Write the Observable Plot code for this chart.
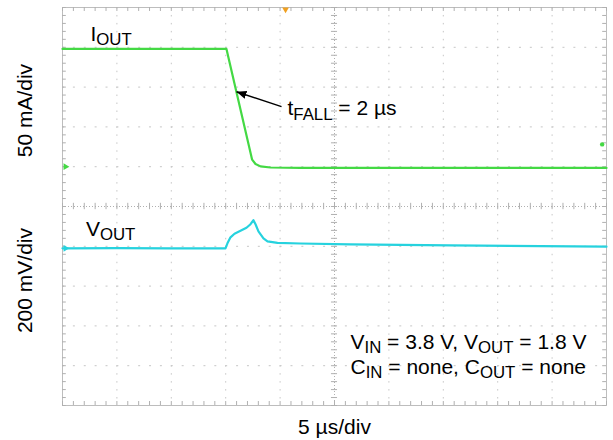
<!DOCTYPE html>
<html><head><meta charset="utf-8">
<script src="https://cdn.jsdelivr.net/npm/d3@7"></script>
<script src="https://cdn.jsdelivr.net/npm/@observablehq/plot@0.6"></script>
<style>
html,body{margin:0;padding:0;background:#fff;}
#chart svg{display:block;}
</style>
</head><body><div id="chart"></div>
<script>
// ---- data (time in µs, IOUT in mA, VOUT deviation in mV) ----
const ioutTime = [0, 5, 10, 15.07, 17.43, 17.74, 18.2, 19.12, 21.87, 30, 40, 50];
const ioutMA   = [148, 148, 148, 148, 8.8, 3.4, 0.4, -1.0, -1.5, -1.6, -1.4, -1.6];
const voutTime = [0, 5, 10, 14.98, 15.16, 15.44, 15.81, 16.36, 16.91, 17.28, 17.55, 17.74, 18.01, 18.47, 18.84, 19.76, 21.87, 26.47, 35.66, 50];
const voutMV   = [0, 1, 0, 0, 25, 55, 73, 88, 103, 121, 141, 121, 85, 50, 35, 27, 24, 20, 15, 8];
const labels = {
  iout: "I_{OUT}", vout: "V_{OUT}", fall: "t_{FALL} = 2 µs",
  cond1: "V_{IN} = 3.8 V, V_{OUT} = 1.8 V", cond2: "C_{IN} = none, C_{OUT} = none",
  yTop: "50 mA/div", yBottom: "200 mV/div", x: "5 µs/div"
};
// scope settings
const mAperDiv = 50, mVperDiv = 200;
const ch1Offset = 6, ch2Offset = 3.95;   // divisions
const triggerTime = [20.5];
const triggerLevel = [{t: 49.6, mA: 28}];
const xGrid = [0, 5, 10, 15, 20, 25, 30, 35, 40, 45, 50];
const yGrid = [0, 1, 2, 3, 4, 5, 6, 7, 8, 9, 10];
const xMinor = d3.range(0, 50.001, 1);
const yMinor = d3.range(0, 10.001, 0.2);
const fallArrow = [{t1: 20.13, mA1: 75.4, t2: 15.99, mA2: 94.2}];

const iout = ioutTime.map((t, i) => ({t, v: ch1Offset + ioutMA[i] / mAperDiv}));
const vout = voutTime.map((t, i) => ({t, v: ch2Offset + voutMV[i] / mVperDiv}));

const GREEN = "#44d944", CYAN = "#26d2de", GRID = "#c6c6c6", TICK = "#b0b0b0";
const FONT = "Liberation Sans, Arial, Helvetica, sans-serif";

function filledArrow(color) {
  const m = d3.create("svg:marker")
    .attr("viewBox", "-10 -5 10 10")
    .attr("markerWidth", 10).attr("markerHeight", 10)
    .attr("markerUnits", "userSpaceOnUse")
    .attr("orient", "auto")
    .attr("fill", color).attr("stroke", "none");
  m.append("path").attr("d", "M-10,-4L0,0L-10,4Z");
  return m.node();
}

function build(marker) {
  const mid = xGrid[5], yMid = yGrid[5];
  return Plot.plot({
    width: 613, height: 440,
    marginLeft: 62, marginRight: 7, marginTop: 7, marginBottom: 35,
    style: {fontFamily: FONT, background: "#fff", overflow: "visible"},
    x: {domain: [0, 50], axis: null},
    y: {domain: [0, 10], axis: null},
    marks: [
      Plot.ruleX(xGrid.filter(v => v !== 0 && v !== 50 && v !== mid), {stroke: GRID, strokeDasharray: "1.5,6.46"}),
      Plot.ruleY(yGrid.filter(v => v !== 0 && v !== 10 && v !== yMid), {stroke: GRID, strokeDasharray: "2,8.88"}),
      Plot.ruleX([mid], {stroke: TICK, strokeDasharray: "1,2"}),
      Plot.ruleY([yMid], {stroke: TICK, strokeDasharray: "1,2"}),
      Plot.frame({stroke: "#bdbdbd"}),
      // minor ticks
      Plot.ruleX(xMinor, {x: d => d, y1: yMid - 0.08, y2: yMid + 0.08, stroke: TICK}),
      Plot.ruleX(xMinor, {x: d => d, y1: 10, y2: 9.9, stroke: TICK}),
      Plot.ruleX(xMinor, {x: d => d, y1: 0, y2: 0.1, stroke: TICK}),
      Plot.ruleY(yMinor, {y: d => d, x1: mid - 0.28, x2: mid + 0.28, stroke: TICK}),
      Plot.ruleY(yMinor, {y: d => d, x1: 0, x2: 0.35, stroke: TICK}),
      Plot.ruleY(yMinor, {y: d => d, x1: 50, x2: 49.65, stroke: TICK}),
      // traces
      Plot.line(iout, {x: "t", y: "v", stroke: GREEN, strokeWidth: 2.2}),
      Plot.line(vout, {x: "t", y: "v", stroke: CYAN, strokeWidth: 2.2}),
      // scope markers
      Plot.dot([ch1Offset], {x: 0, y: d => d, symbol: "triangle2", rotate: 90, r: 3.2, fill: GREEN, dx: 3}),
      Plot.dot([ch2Offset], {x: 0, y: d => d, symbol: "triangle2", rotate: 90, r: 3.2, fill: CYAN, dx: 3}),
      Plot.dot(triggerTime, {x: d => d, y: 10, symbol: "triangle2", rotate: 180, r: 3.2, fill: "#f0a020", dy: 2}),
      Plot.dot(triggerLevel, {x: "t", y: d => ch1Offset + d.mA / mAperDiv, r: 2.2, fill: GREEN}),
      // arrow
      Plot.link(fallArrow, {
        x1: "t1", y1: d => ch1Offset + d.mA1 / mAperDiv,
        x2: "t2", y2: d => ch1Offset + d.mA2 / mAperDiv,
        stroke: "#000", strokeWidth: 1.4, markerEnd: marker
      }),
      // annotations
      Plot.text([labels.iout], {x: 2.57, y: 9.17, text: d => d, textAnchor: "start", lineAnchor: "bottom", fontSize: 21, fill: "#000"}),
      Plot.text([labels.vout], {x: 2.15, y: 4.27, text: d => d, textAnchor: "start", lineAnchor: "bottom", fontSize: 21, fill: "#000"}),
      Plot.text([labels.fall], {x: 20.68, y: 7.29, text: d => d, textAnchor: "start", lineAnchor: "bottom", fontSize: 21, fill: "#000"}),
      Plot.text([labels.cond1], {x: 26.47, y: 1.43, text: d => d, textAnchor: "start", lineAnchor: "bottom", fontSize: 21, fill: "#000"}),
      Plot.text([labels.cond2], {x: 26.47, y: 0.80, text: d => d, textAnchor: "start", lineAnchor: "bottom", fontSize: 21, fill: "#000"}),
      // axis labels
      Plot.text([labels.yTop], {y: 7.41, frameAnchor: "left", dx: -31, rotate: -90, text: d => d, textAnchor: "middle", lineAnchor: "bottom", fontSize: 21, fill: "#000"}),
      Plot.text([labels.yBottom], {y: 3.14, frameAnchor: "left", dx: -31, rotate: -90, text: d => d, textAnchor: "middle", lineAnchor: "bottom", fontSize: 21, fill: "#000"}),
      Plot.text([labels.x], {x: mid, frameAnchor: "bottom", dy: 28, text: d => d, textAnchor: "middle", lineAnchor: "bottom", fontSize: 21, fill: "#000"})
    ]
  });
}

function applySubscripts(svg) {
  const SUB = 4.5;
  d3.select(svg).selectAll("text").each(function () {
    const s = this.textContent;
    if (!s.includes("_{")) return;
    const parts = s.split(/(_\{[^}]*\})/);
    const sel = d3.select(this);
    sel.text(null);
    let shifted = false;
    for (const p of parts) {
      if (!p) continue;
      if (p.startsWith("_{")) {
        const ts = sel.append("tspan").attr("font-size", "80%").text(p.slice(2, -1));
        if (!shifted) ts.attr("dy", SUB);
        shifted = true;
      } else {
        const ts = sel.append("tspan").text(p);
        if (shifted) { ts.attr("dy", -SUB); shifted = false; }
      }
    }
  });
}

let chart;
try { chart = build(filledArrow); } catch (e) { chart = build("arrow"); }
applySubscripts(chart);
document.getElementById("chart").appendChild(chart);
</script>
</body></html>
